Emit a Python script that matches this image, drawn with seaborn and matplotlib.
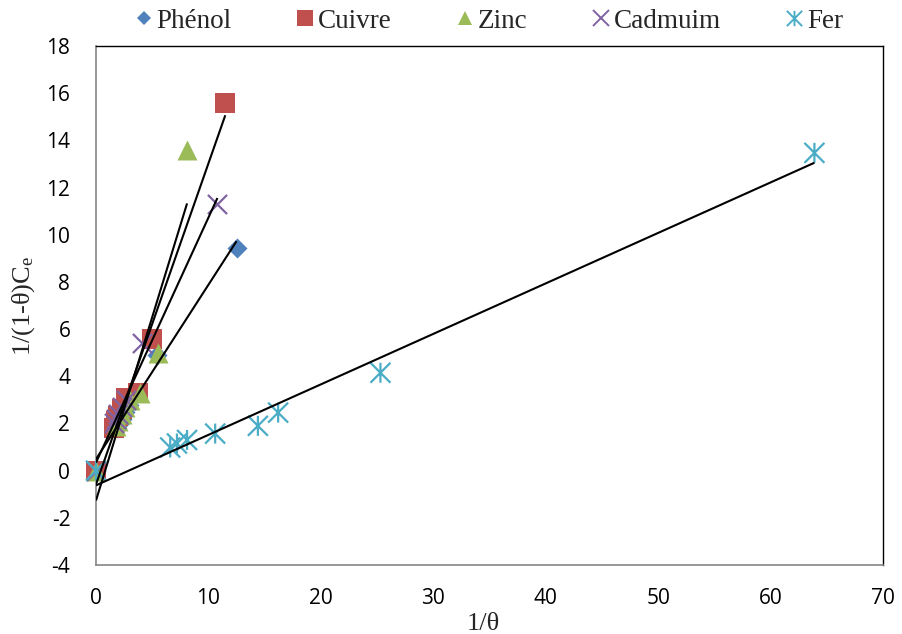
import numpy as np
import pandas as pd
import seaborn as sns
import matplotlib.pyplot as plt
from matplotlib.path import Path
from matplotlib.lines import Line2D

# Linearised isotherm data: 1/theta versus 1/((1-theta) Ce)
phenol_x = [0.0, 1.9, 2.1, 2.3, 2.6, 2.9, 3.4, 5.4, 12.5]
phenol_y = [0.0, 1.8, 2.0, 2.2, 2.5, 2.8, 3.2, 4.9, 9.45]

cuivre_x = [0.0, 1.6, 1.8, 2.0, 2.3, 2.7, 3.7, 5.0, 11.5]
cuivre_y = [0.0, 1.8, 2.1, 2.3, 2.6, 3.1, 3.3, 5.6, 15.6]

zinc_x = [0.0, 1.8, 2.0, 2.3, 2.6, 3.0, 3.9, 5.5, 8.1]
zinc_y = [0.0, 1.9, 2.1, 2.4, 2.7, 3.0, 3.3, 5.0, 13.6]

cadmium_x = [0.0, 1.6, 1.8, 2.0, 2.3, 2.7, 4.1, 10.8]
cadmium_y = [0.0, 2.0, 2.2, 2.4, 2.7, 3.0, 5.4, 11.3]

fer_x = [0.0, 6.6, 7.2, 8.1, 10.6, 14.4, 16.2, 25.3, 63.9]
fer_y = [0.0, 0.98, 1.15, 1.3, 1.57, 1.9, 2.46, 4.15, 13.47]

series_names = ["Phénol", "Cuivre", "Zinc", "Cadmuim", "Fer"]
x_ticks = list(range(0, 71, 10))
y_ticks = list(range(-4, 19, 2))

# six-armed asterisk marker (vertical bar plus a cross)
star = Path([(0, -1), (0, 1), (-1, -1), (1, 1), (-1, 1), (1, -1)],
            [Path.MOVETO, Path.LINETO] * 3)

styles = {
    "Phénol": dict(marker="D", color="#4F81BD", s=104, filled=True, leg=7.6),
    "Cuivre": dict(marker="s", color="#C0504D", s=200, filled=True, leg=11.5),
    "Zinc": dict(marker="^", color="#9BBB59", s=207, filled=True, leg=10.5),
    "Cadmuim": dict(marker="x", color="#8064A2", s=190, filled=False, leg=11.0),
    "Fer": dict(marker=star, color="#4BACC6", s=207, filled=False, leg=11.0),
}

frames = {
    "Phénol": (phenol_x, phenol_y),
    "Cuivre": (cuivre_x, cuivre_y),
    "Zinc": (zinc_x, zinc_y),
    "Cadmuim": (cadmium_x, cadmium_y),
    "Fer": (fer_x, fer_y),
}

sns.set_theme(style="white")
plt.rcParams["font.family"] = ["Liberation Serif", "DejaVu Serif"]
plt.rcParams["axes.unicode_minus"] = False

fig = plt.figure(figsize=(9.02, 6.34), dpi=100)
ax = fig.add_axes([96 / 902, 1 - 565 / 634, (883 - 96) / 902, (565 - 46) / 634])

for name in series_names:
    xs, ys = frames[name]
    st = styles[name]
    df = pd.DataFrame({"x": xs, "y": ys})
    if st["filled"]:
        sns.scatterplot(data=df, x="x", y="y", ax=ax, marker=st["marker"],
                        s=st["s"], color=st["color"], linewidth=0,
                        clip_on=False, zorder=3, legend=False)
    else:
        sns.scatterplot(data=df, x="x", y="y", ax=ax, marker=st["marker"],
                        s=st["s"], color=st["color"], edgecolor=st["color"],
                        facecolor="none" if st["marker"] is star else st["color"],
                        linewidth=1.6, clip_on=False, zorder=3, legend=False)

# least-squares trendlines over each series' range
for name in series_names:
    xs, ys = frames[name]
    sns.regplot(x=np.array(xs), y=np.array(ys), ax=ax, scatter=False, ci=None,
                truncate=True, color="black",
                line_kws=dict(lw=1.5, zorder=4, solid_capstyle="butt"))

ax.set_xlim(0, 70)
ax.set_ylim(-4, 18)
ax.set_xticks(x_ticks)
ax.set_yticks(y_ticks)
ax.grid(False)

for side in ("left", "bottom"):
    ax.spines[side].set_color("#868686")
    ax.spines[side].set_linewidth(1.2)
for side in ("top", "right"):
    ax.spines[side].set_color("black")
    ax.spines[side].set_linewidth(1.0)

ax.tick_params(axis="both", which="major", direction="out", length=3.5,
               width=1, color="#868686", labelsize=15, labelcolor="black")
ax.tick_params(axis="y", pad=15)
ax.tick_params(axis="x", pad=13)
for lbl in ax.get_xticklabels() + ax.get_yticklabels():
    lbl.set_fontfamily(["Open Sans", "DejaVu Sans"])

ax.set_xlabel("1/θ", fontsize=19, va="center")
ax.xaxis.set_label_coords((483.5 - 96) / 787, -(624 - 565) / 519)
ax.set_ylabel("1/(1-θ)C$\\mathregular{_e}$", fontsize=19, va="center")
ax.yaxis.set_label_coords(-(96 - 24) / 787, 0.5)

handles = [Line2D([], [], ls="none", marker=styles[n]["marker"],
                  color=styles[n]["color"], markersize=styles[n]["leg"],
                  markeredgewidth=(1.4 if not styles[n]["filled"] else 0),
                  markerfacecolor=("none" if styles[n]["marker"] is star else styles[n]["color"]))
           for n in series_names]
fig.legend(handles, series_names, loc="center", bbox_to_anchor=(489 / 902, 1 - 21 / 634),
           ncol=5, frameon=False, prop={"family": "Liberation Serif", "size": 19.5},
           handlelength=0.65, handletextpad=0.15, columnspacing=2.38, borderaxespad=0)

fig.savefig("out.png", dpi=100, facecolor="white")
